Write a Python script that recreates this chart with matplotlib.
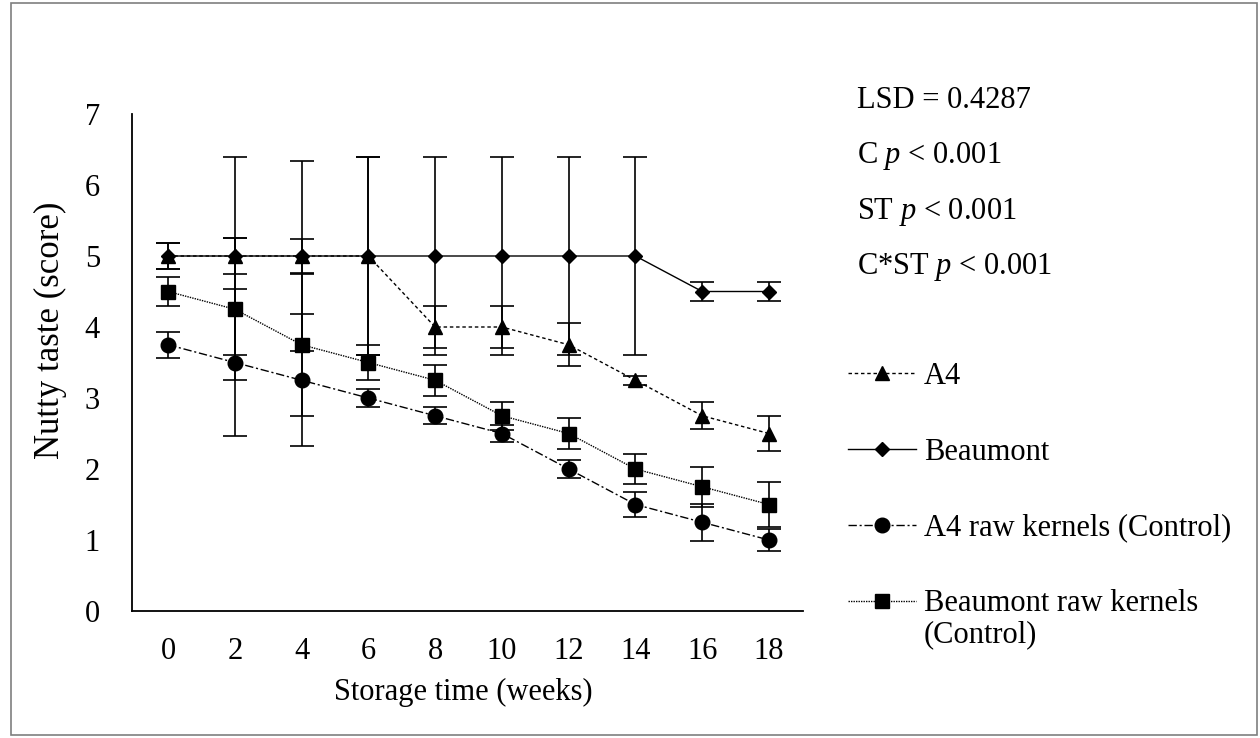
import numpy as np
import matplotlib.pyplot as plt
from matplotlib.patches import Rectangle

plt.rcParams['font.family'] = ['Liberation Serif', 'DejaVu Serif']
plt.rcParams['mathtext.fontset'] = 'custom'
plt.rcParams['mathtext.rm'] = 'Liberation Serif'
plt.rcParams['mathtext.it'] = 'Liberation Serif:italic'

# data
weeks = [0, 2, 4, 6, 8, 10, 12, 14, 16, 18]
a4 = [5, 5, 5, 5, 4, 4, 3.75, 3.25, 2.75, 2.5]
a4_err = [0.18, 0.25, 0.24, 1.4, 0.3, 0.3, 0.3, 0.06, 0.19, 0.25]
beaumont = [5, 5, 5, 5, 5, 5, 5, 5, 4.5, 4.5]
beaumont_err = [0.18, 1.4, 1.34, 1.4, 1.4, 1.4, 1.4, 1.4, 0.14, 0.14]
a4_raw = [3.75, 3.5, 3.25, 3.0, 2.75, 2.5, 2.0, 1.5, 1.25, 1.0]
a4_raw_err = [0.18, 1.03, 0.93, 0.12, 0.12, 0.12, 0.12, 0.18, 0.26, 0.15]
beau_raw = [4.5, 4.25, 3.75, 3.5, 3.25, 2.75, 2.5, 2.0, 1.75, 1.5]
beau_raw_err = [0.2, 1.0, 1.0, 0.25, 0.22, 0.2, 0.22, 0.21, 0.28, 0.32]

labels = ['A4', 'Beaumont', 'A4 raw kernels (Control)', 'Beaumont raw kernels']
stats = ['LSD = 0.4287', 'C $p$ < 0.001', 'ST $p$ < 0.001', 'C*ST $p$ < 0.001']

W, H = 1260, 738
FS = 22


def px(x, y):
    return x / W, 1 - y / H


fig = plt.figure(figsize=(W / 100, H / 100), dpi=100)
ax = fig.add_axes([132 / W, 1 - 611 / H, 671 / W, 497 / H])

series = [
    (a4, a4_err, '^', 10, (0, (2.5, 2))),
    (beaumont, beaumont_err, 'D', 7.2, '-'),
    (a4_raw, a4_raw_err, 'o', 10.5, (0, (6, 2, 1.5, 2))),
    (beau_raw, beau_raw_err, 's', 9.5, (0, (1, 0.8))),
]
handles = []
for vals, err, m, ms, ls in series:
    c = ax.errorbar(weeks, vals, yerr=err, marker=m, ms=ms, ls=ls, lw=1,
                    color='black', ecolor='black', elinewidth=1.2,
                    capsize=8.5, capthick=1.2)
    handles.append(c[0])

ax.set_xlim(-1.08, 19.02)
ax.set_ylim(0, 7)
ax.set_xticks(weeks)
ax.set_yticks(range(8))
for s in ['top', 'right']:
    ax.spines[s].set_visible(False)
for s in ['left', 'bottom']:
    ax.spines[s].set_linewidth(1.3)
ax.tick_params(axis='both', length=0, labelsize=FS)
ax.tick_params(axis='x', pad=19)
ax.tick_params(axis='y', pad=23)

fig.text(*px(50, 330), 'Nutty taste (score)', rotation=90, ha='center', va='center', fontsize=25)
fig.text(*px(463, 692), 'Storage time (weeks)', ha='center', va='center', fontsize=FS)

for i, s in enumerate(stats):
    fig.text(*px(857, 108 + 55.3 * i), s, ha='left', va='baseline', fontsize=FS)

fig.legend(handles, labels, loc='upper left', bbox_to_anchor=px(848, 362),
           frameon=False, fontsize=FS, handlelength=2.22, handletextpad=0.26,
           labelspacing=1.53, borderpad=0, borderaxespad=0)
# second line of the last legend label
fig.text(*px(924, 635), '(Control)', ha='left', va='center', fontsize=FS)

fig.add_artist(Rectangle(px(11, 735), 1246 / W, 732 / H, fill=False,
                         edgecolor='#7f7f7f', lw=1.2, transform=fig.transFigure))

fig.savefig('out.png', dpi=100)
